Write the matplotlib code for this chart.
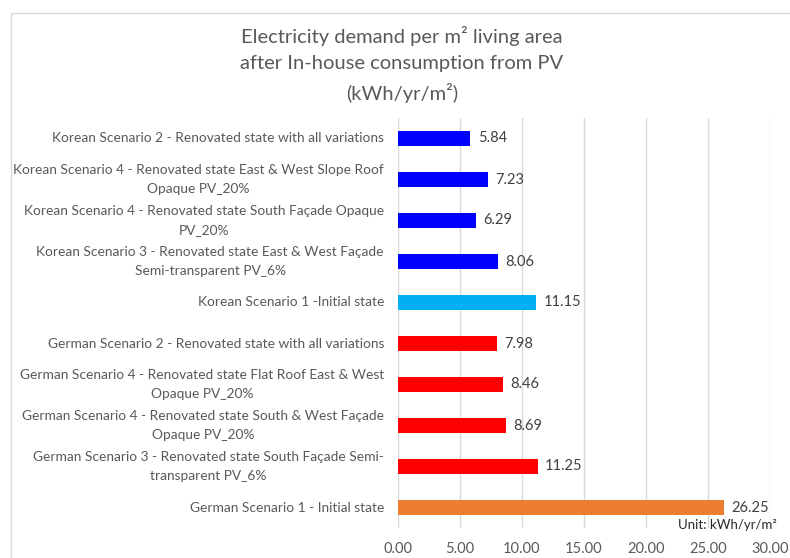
import matplotlib.pyplot as plt
from matplotlib.patches import Rectangle
from matplotlib.transforms import blended_transform_factory

# Scenario labels, bottom to top
cenarios = [
    "German Scenario 1 - Initial state",
    "German Scenario 3 - Renovated state South Façade Semi-\ntransparent PV_6%",
    "German Scenario 4 - Renovated state South & West Façade\nOpaque PV_20%",
    "German Scenario 4 - Renovated state Flat Roof East & West\nOpaque PV_20%",
    "German Scenario 2 - Renovated state with all variations",
    "Korean Scenario 1 -Initial state",
    "Korean Scenario 3 - Renovated state East & West Façade\nSemi-transparent PV_6%",
    "Korean Scenario 4 - Renovated state South Façade Opaque\nPV_20%",
    "Korean Scenario 4 - Renovated state East & West Slope Roof\nOpaque PV_20%",
    "Korean Scenario 2 - Renovated state with all variations",
]
valores = [26.25, 11.25, 8.69, 8.46, 7.98, 11.15, 8.06, 6.29, 7.23, 5.84]
cores = ["#ED7D31", "#FF0000", "#FF0000", "#FF0000", "#FF0000",
         "#00B0F0", "#0000FF", "#0000FF", "#0000FF", "#0000FF"]
ticks_x = [0, 5, 10, 15, 20, 25, 30]

plt.rcParams['font.family'] = ['Lato', 'DejaVu Sans']
cinza = '#595959'

fig = plt.figure(figsize=(7.9, 5.58), dpi=100)
ax = fig.add_axes([398 / 790, 1 - 528 / 558, 372 / 790, 410 / 558])

# moldura do gráfico
fig.patches.append(Rectangle((11 / 790, -0.05), 1.0, 1 - 13 / 558 + 0.05,
                             transform=fig.transFigure, fill=False,
                             edgecolor='#D9D9D9', linewidth=1))

pos = list(range(len(valores)))
ax.barh(pos, valores, height=0.37, color=cores, zorder=2)
for y, v in zip(pos, valores):
    ax.text(v + 0.6, y, f"{v:.2f}", va='center', ha='left', fontsize=10.5, color='#404040')

ax.set_xlim(0, 30)
ax.set_ylim(-0.5, len(valores) - 0.5)
ax.set_xticks(ticks_x)
ax.set_xticklabels([f"{t:.2f}" for t in ticks_x], fontsize=10.5, color=cinza)
ax.set_yticks(pos)
ax.set_yticklabels([])

# rótulos das categorias, centralizados linha a linha
trans = blended_transform_factory(fig.transFigure, ax.transData)
for y, nome in zip(pos, cenarios):
    ax.text(384 / 790, y, nome, transform=trans, ha='right', va='center',
            multialignment='center', fontsize=9.9, color=cinza, linespacing=1.7)

ax.tick_params(length=0, axis='y')
ax.tick_params(length=0, axis='x', pad=10)
ax.grid(axis='x', color='#D9D9D9', linewidth=1, zorder=0)
for s in ax.spines.values():
    s.set_visible(False)

fig.text(402 / 790, 1 - 26 / 558,
         "Electricity demand per m² living area\nafter In-house consumption from PV\n(kWh/yr/m²)",
         ha='center', va='top', fontsize=14.5, color=cinza, linespacing=1.65)
fig.text(777 / 790, 1 - 525 / 558, "Unit: kWh/yr/m²", ha='right', va='center',
         fontsize=9.5, color='#262626')

fig.savefig('out.png', dpi=100)
